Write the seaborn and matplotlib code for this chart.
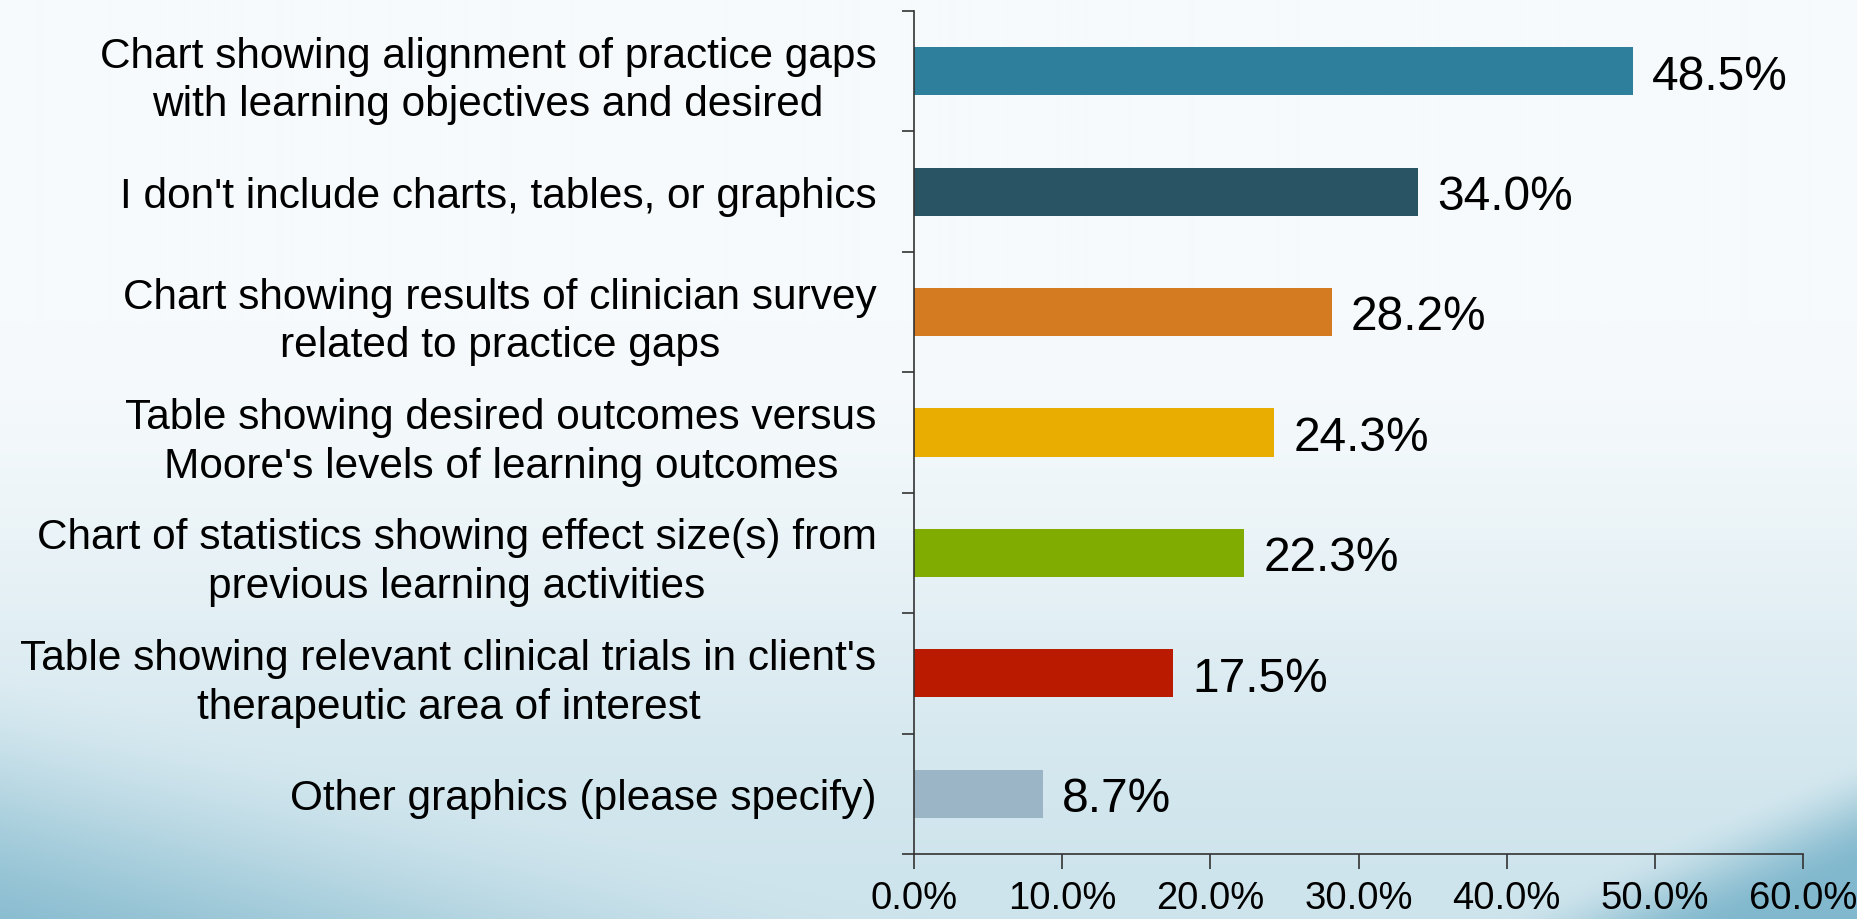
import numpy as np
import pandas as pd
import matplotlib
matplotlib.use("Agg")
import matplotlib.pyplot as plt
from matplotlib.ticker import FuncFormatter, FixedLocator
import seaborn as sns

# data
labels = [
    "Chart showing alignment of practice gaps\nwith learning objectives and desired",
    "I don't include charts, tables, or graphics",
    "Chart showing results of clinician survey\nrelated to practice gaps",
    "Table showing desired outcomes versus\nMoore's levels of learning outcomes",
    "Chart of statistics showing effect size(s) from\nprevious learning activities",
    "Table showing relevant clinical trials in client's\ntherapeutic area of interest",
    "Other graphics (please specify)",
]
values = [48.5, 34.0, 28.2, 24.3, 22.3, 17.5, 8.7]
colors = ["#2D7F9C", "#285464", "#D47A20", "#E8AD00", "#80AB00", "#BA1A00", "#9BB4C6"]
x_ticks = [0, 10, 20, 30, 40, 50, 60]

df = pd.DataFrame({"label": labels, "value": values})

sns.set_theme(style="white")
plt.rcParams["font.family"] = ["Liberation Sans", "DejaVu Sans"]

fig = plt.figure(figsize=(18.57, 9.20), dpi=100)


def smooth(a):
    a = np.clip(a, 0, 1)
    return a * a * (3 - 2 * a)


# slide-like background gradient
bg = fig.add_axes([0, 0, 1, 1], zorder=-10)
H, W = 460, 930
yy, xx = np.mgrid[0:H, 0:W] / np.array([H, W])[:, None, None]
top = np.array([246, 250, 252]) / 255
bot = np.array([206, 228, 236]) / 255
t = smooth((yy - 0.35) / 0.65)
img = top[None, None, :] * (1 - t[..., None]) + bot[None, None, :] * t[..., None]
dark = np.array([122, 180, 202]) / 255
sw_left = smooth((yy - 0.72 - 0.55 * xx) / 0.35) * 0.9
sw_right = smooth((yy + 0.9 * (xx - 1.0) - 0.82) / 0.12) * 0.9
sw = np.clip(sw_left + sw_right, 0, 1)[..., None]
img = img * (1 - sw) + dark[None, None, :] * sw
bg.imshow(img, aspect="auto", extent=[0, 1, 0, 1], origin="upper")
bg.axis("off")

ax = fig.add_axes([914 / 1857, 65 / 920, (1803 - 914) / 1857, (855 - 12) / 920])
ax.patch.set_alpha(0)

sns.barplot(data=df, y="label", x="value", hue="label", palette=colors,
            orient="h", width=0.4, legend=False, ax=ax, saturation=1,
            linewidth=0)

ax.set_xlim(0, 60)
ax.set_ylim(len(labels) - 0.5, -0.5)
ax.set_xticks(x_ticks)
ax.xaxis.set_major_formatter(FuncFormatter(lambda v, p: f"{v:.1f}%"))
ax.set_xlabel("")
ax.set_ylabel("")

for i, v in enumerate(values):
    ax.text(v + 1.3, i + 0.04, f"{v:.1f}%", va="center", ha="left",
            fontsize=34.5, color="black")

for s in ["top", "right"]:
    ax.spines[s].set_visible(False)
for s in ["left", "bottom"]:
    ax.spines[s].set_color("#333333")
    ax.spines[s].set_linewidth(1.2)

ax.tick_params(axis="y", which="major", length=0, pad=27, labelsize=30.5,
               labelcolor="black")
ax.yaxis.set_minor_locator(FixedLocator(np.arange(-0.5, len(labels), 1)))
ax.tick_params(axis="y", which="minor", left=True, length=9, width=1.2, color="#333333")
ax.tick_params(axis="x", which="major", bottom=True, length=11, width=1.2,
               color="#333333", labelsize=27.5, pad=8, labelcolor="black")
for lab in ax.get_yticklabels():
    lab.set_multialignment("center")
    lab.set_linespacing(1.28)

fig.savefig("out.png", dpi=100)
